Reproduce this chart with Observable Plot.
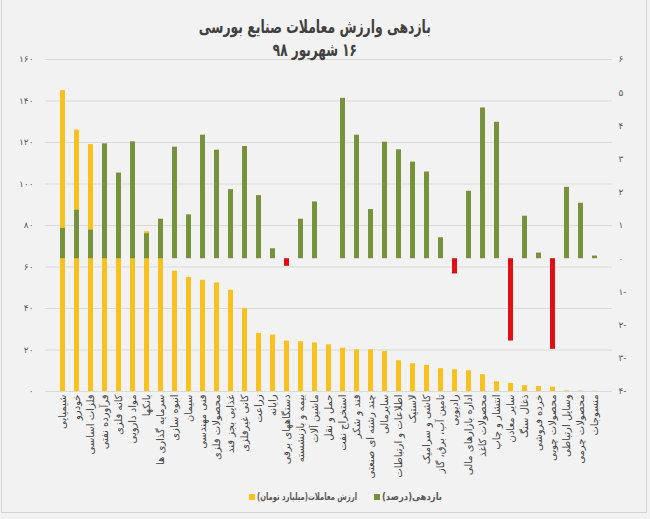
<!DOCTYPE html>
<html>
<head>
<meta charset="utf-8">
<script src="https://cdn.jsdelivr.net/npm/d3@7"></script>
<script src="https://cdn.jsdelivr.net/npm/@observablehq/plot@0.6"></script>
<style>
  body { margin: 0; background: #f7f7f7; }
  #wrap { position: relative; width: 650px; height: 519px; background: #f2f2f2; overflow: hidden; font-family: "DejaVu Sans", sans-serif; }
  #frame { position: absolute; left: 1px; top: -2px; width: 646px; height: 515px; border: 1px solid #d4d4d4; box-sizing: border-box; pointer-events: none; }
  .ttl { position: absolute; left: 0; width: 630px; text-align: center; font-weight: bold; color: #404040; }
  .ttl span { display: inline-block; direction: rtl; transform-origin: 50% 50%; white-space: nowrap; }
  #title { top: 15px; font-size: 18px; line-height: 24px; }
  #subtitle { top: 38px; font-size: 18px; line-height: 24px; }
  #chart { position: absolute; left: 0; top: 0; }
  .lg { position: absolute; top: 490px; font-size: 10px; font-weight: bold; color: #595959; line-height: 14px; white-space: nowrap; transform-origin: 0 50%; }
  .sw { position: absolute; width: 6px; height: 6px; top: 494px; }
</style>
</head>
<body>
<div id="wrap">
  <div id="chart"></div>
  <div class="ttl" id="title"><span></span></div>
  <div class="ttl" id="subtitle"><span></span></div>
  <div id="legend"></div>
  <div id="frame"></div>
</div>
<script>
const titleText = "بازدهی وارزش معاملات صنایع بورسی";
const subtitleText = "۱۶ شهریور ۹۸";

const categories = [
  "شیمیایی", "خودرو", "فلزات اساسی", "فرآورده نفتی", "کانه فلزی", "مواد دارویی",
  "بانکها", "سرمایه گذاری ها", "انبوه سازی", "سیمان", "فنی مهندسی", "محصولات فلزی",
  "غذایی بجز قند", "کانی غیرفلزی", "زراعت", "رایانه", "دستگاههای برقی", "بیمه و بازنشسته",
  "ماشین آلات", "حمل و نقل", "استخراج نفت", "قند و شکر", "چند رشته ای صنعتی", "سایرمالی",
  "اطلاعات و ارتباطات", "لاستیک", "کاشی و سرامیک", "تامین آب، برق، گاز", "رادیویی",
  "اداره بازارهای مالی", "محصولات کاغذ", "انتشار و چاپ", "سایر معادن", "ذغال سنگ",
  "خرده فروشی", "محصولات چوبی", "وسایل ارتباطی", "محصولات چرمی", "منسوجات"
];

// ارزش معاملات (میلیارد تومان) - left axis
const tradeValue = [
  145, 126, 119, 105, 95, 85,
  77, 66, 58, 55, 53.6, 52.3,
  48.8, 40, 28, 27.2, 24.3, 24,
  23.4, 22.5, 20.9, 20.1, 20.1, 19.3,
  14.8, 13.4, 12.6, 11, 10.5,
  10, 8.1, 4.7, 3.9, 2.8,
  2.4, 2.1, 0.3, 0.2, 0.1
];

// بازدهی (درصد) - right axis
const returns = [
  0.91, 1.46, 0.86, 3.46, 2.58, 3.52,
  0.75, 1.19, 3.36, 1.32, 3.72, 3.27,
  2.08, 3.38, 1.90, 0.30, -0.23, 1.19,
  1.71, 0, 4.83, 3.72, 1.48, 3.51,
  3.28, 2.91, 2.61, 0.63, -0.46,
  2.03, 4.54, 4.11, -2.48, 1.28,
  0.17, -2.73, 2.15, 1.67, 0.08
];

const leftTicks = [0, 20, 40, 60, 80, 100, 120, 140, 160];
const leftTickLabels = ["۰", "۲۰", "۴۰", "۶۰", "۸۰", "۱۰۰", "۱۲۰", "۱۴۰", "۱۶۰"];
const rightTicks = [-4, -3, -2, -1, 0, 1, 2, 3, 4, 5, 6];
const rightTickLabels = ["۴-", "۳-", "۲-", "۱-", "۰", "۱", "۲", "۳", "۴", "۵", "۶"];

const seriesNames = ["ارزش معاملات(میلیارد تومان)", "بازدهی(درصد)"];
const colors = { value: "#f7c11e", pos: "#76923c", neg: "#e10f14" };

const data = categories.map((c, i) => ({ category: c, value: tradeValue[i], ret: returns[i] }));

// secondary axis mapped onto the primary y scale
const LEFT_MAX = leftTicks[leftTicks.length - 1];
const R_MIN = rightTicks[0], R_MAX = rightTicks[rightTicks.length - 1];
const toLeft = r => (r - R_MIN) * LEFT_MAX / (R_MAX - R_MIN);

const leftMap = new Map(leftTicks.map((t, i) => [t, leftTickLabels[i]]));
const rightMap = new Map(rightTicks.map((t, i) => [toLeft(t), rightTickLabels[i]]));

const chart = Plot.plot({
  width: 650,
  height: 480,
  marginTop: 59,
  marginBottom: 89,
  marginLeft: 45,
  marginRight: 38,
  style: { background: "transparent", fontFamily: "DejaVu Sans, sans-serif", fontSize: "9px", color: "#595959" },
  x: { domain: categories, paddingInner: 0.65, paddingOuter: 0.325, label: null },
  y: { domain: [0, LEFT_MAX], label: null },
  marks: [
    Plot.ruleY(leftTicks, { stroke: "#d9d9d9", strokeWidth: 1 }),
    Plot.barY(data, { x: "category", y: "value", fill: colors.value }),
    Plot.barY(data.filter(d => d.ret >= 0), { x: "category", y1: toLeft(0), y2: d => toLeft(d.ret), fill: colors.pos }),
    Plot.barY(data.filter(d => d.ret < 0), { x: "category", y1: toLeft(0), y2: d => toLeft(d.ret), fill: colors.neg }),
    Plot.axisY(leftTicks, { anchor: "left", tickSize: 0, tickPadding: 12, tickFormat: d => leftMap.get(d), label: null, fill: "#595959" }),
    Plot.axisY(rightTicks.map(toLeft), { anchor: "right", tickSize: 0, tickPadding: 6, tickFormat: d => rightMap.get(d), label: null, fill: "#595959" }),
    Plot.axisX({ tickSize: 0, tickRotate: -90, tickPadding: 3, label: null, fontSize: 10, fill: "#404040" })
  ]
});
document.getElementById("chart").appendChild(chart);

// titles, horizontally fitted to the reference widths
function fit(el, target) {
  const w = el.getBoundingClientRect().width;
  if (w > 0) el.style.transform = "scaleX(" + (target / w) + ")";
}
const tSpan = document.querySelector("#title span");
const sSpan = document.querySelector("#subtitle span");
tSpan.textContent = titleText;
sSpan.textContent = subtitleText;
fit(tSpan, 232);
fit(sSpan, 84);

// legend
const legend = document.getElementById("legend");
const items = [
  { name: seriesNames[0], color: colors.value, x: 249, w: 100 },
  { name: seriesNames[1], color: colors.pos, x: 374, w: 60 }
];
for (const it of items) {
  const sw = document.createElement("div");
  sw.className = "sw";
  sw.style.left = it.x + "px";
  sw.style.background = it.color;
  legend.appendChild(sw);
  const t = document.createElement("div");
  t.className = "lg";
  t.style.left = (it.x + 8) + "px";
  const s = document.createElement("span");
  s.dir = "rtl";
  s.style.display = "inline-block";
  s.textContent = it.name;
  t.appendChild(s);
  legend.appendChild(t);
  const w = s.getBoundingClientRect().width;
  if (w > 0) t.style.transform = "scaleX(" + Math.min(1, it.w / w) + ")";
}
</script>
</body>
</html>
